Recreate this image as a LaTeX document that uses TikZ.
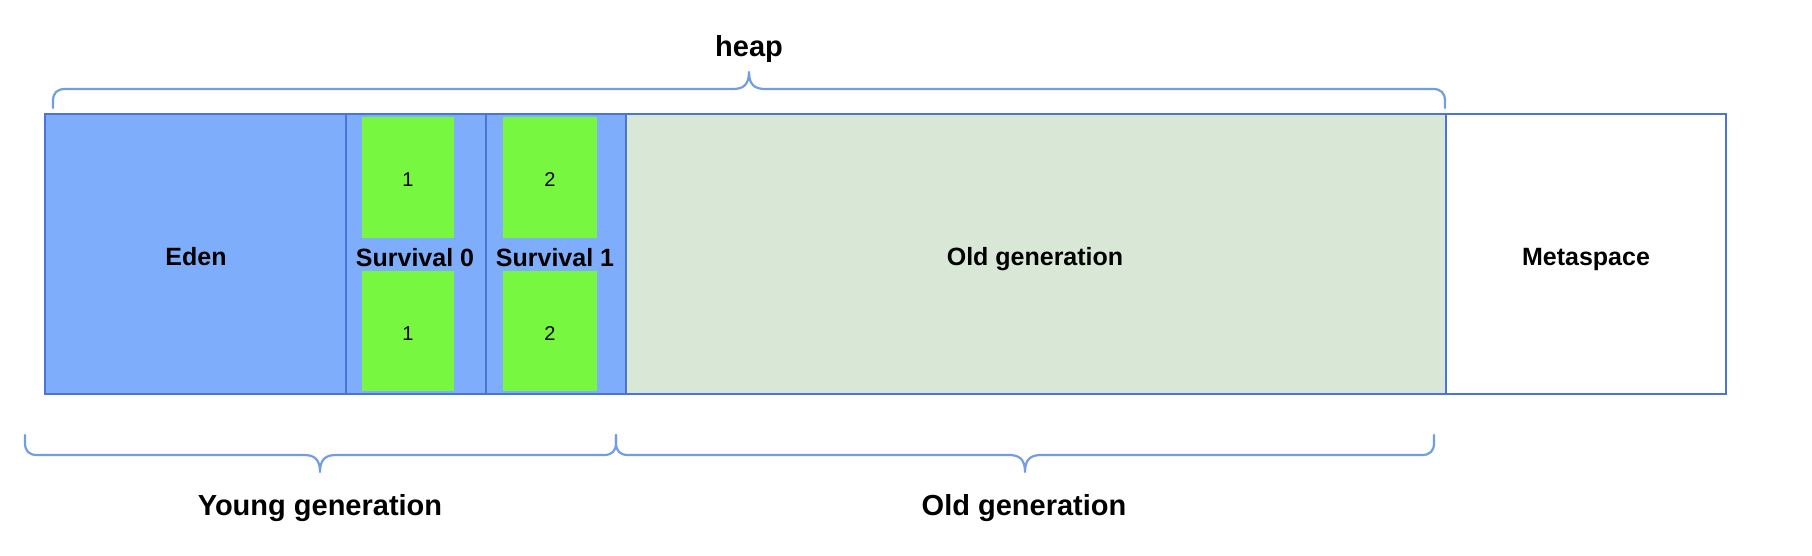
\documentclass[tikz,border=0pt]{standalone}
\usepackage{fontspec}
\setmainfont{Liberation Sans}
\definecolor{edgeblue}{HTML}{4A74D6}
\definecolor{bluefill}{HTML}{7EAEFB}
\definecolor{greenfill}{HTML}{77F73F}
\definecolor{oldfill}{HTML}{D9E8D6}
\definecolor{bracecol}{HTML}{729DE4}
\begin{document}
\begin{tikzpicture}[x=1pt,y=-1pt,
  region/.style={draw=edgeblue, line width=2pt, anchor=north west, inner sep=0pt, minimum height=280pt},
  greenbox/.style={fill=greenfill, anchor=north west, inner sep=0pt},
  digit/.style={font=\fontsize{20}{24}\selectfont, inner sep=0pt, anchor=base},
  boxlabel/.style={font=\bfseries\fontsize{25}{30}\selectfont, inner sep=0pt, anchor=base},
  biglabel/.style={font=\bfseries\fontsize{29}{34}\selectfont, inner sep=0pt, anchor=base},
  bracepath/.style={draw=bracecol, line width=2.2pt, line cap=round, line join=round}]
\useasboundingbox (0,0) rectangle (1812,556);

% regions
\node[region, fill=bluefill, minimum width=301pt] (eden) at (44,113) {};
\node[region, fill=bluefill, minimum width=140pt] (surv0) at (345,113) {};
\node[region, fill=bluefill, minimum width=140pt] (surv1) at (485,113) {};
\node[region, fill=oldfill, minimum width=820pt] (oldgen) at (625,113) {};
\node[region, fill=white, minimum width=280pt] (meta) at (1445,113) {};

% green blocks
\node[greenbox, minimum width=92pt, minimum height=121pt] (s0a) at (362,117) {};
\node[greenbox, minimum width=92pt, minimum height=120pt] (s0b) at (362,271) {};
\node[greenbox, minimum width=94pt, minimum height=121pt] (s1a) at (503,117) {};
\node[greenbox, minimum width=94pt, minimum height=120pt] (s1b) at (503,271) {};
\node[digit] (d0a) at (408,187) {1};
\node[digit] (d0b) at (408,340) {1};
\node[digit] (d1a) at (550,187) {2};
\node[digit] (d1b) at (550,340) {2};

% labels
\node[boxlabel] (edenlab) at (196,265) {Eden};
\node[boxlabel] (s0lab) at (415,266) {Survival 0};
\node[boxlabel] (s1lab) at (555,266) {Survival 1};
\node[boxlabel] (oldlab) at (1035,265) {Old generation};
\node[boxlabel] (metalab) at (1586,265) {Metaspace};

% heap brace
\coordinate (heaptip) at (749,72);
\draw[bracepath] (53,108) -- (53,101) .. controls (53,93) and (57,89) .. (65,89)
  -- (733,89) .. controls (743,89) and (749,85) .. (heaptip)
  .. controls (749,85) and (755,89) .. (765,89)
  -- (1433,89) .. controls (1441,89) and (1445,93) .. (1445,101) -- (1445,108);
\node[biglabel] (heaplab) at (749,57) {heap};

% young brace
\coordinate (youngtip) at (320,472);
\draw[bracepath] (25,435) -- (25,443) .. controls (25,451) and (29,455) .. (37,455)
  -- (304,455) .. controls (314,455) and (320,459) .. (youngtip)
  .. controls (320,459) and (326,455) .. (336,455)
  -- (604,455) .. controls (612,455) and (616,451) .. (616,443) -- (616,435);
\node[biglabel] (younglab) at (320,515) {Young generation};

% old brace
\coordinate (oldtip) at (1025,472);
\draw[bracepath] (616,435) -- (616,443) .. controls (616,451) and (620,455) .. (628,455)
  -- (1009,455) .. controls (1019,455) and (1025,459) .. (oldtip)
  .. controls (1025,459) and (1031,455) .. (1041,455)
  -- (1422,455) .. controls (1430,455) and (1434,451) .. (1434,443) -- (1434,435);
\node[biglabel] (oldgenlab) at (1024,515) {Old generation};
\end{tikzpicture}
\end{document}
